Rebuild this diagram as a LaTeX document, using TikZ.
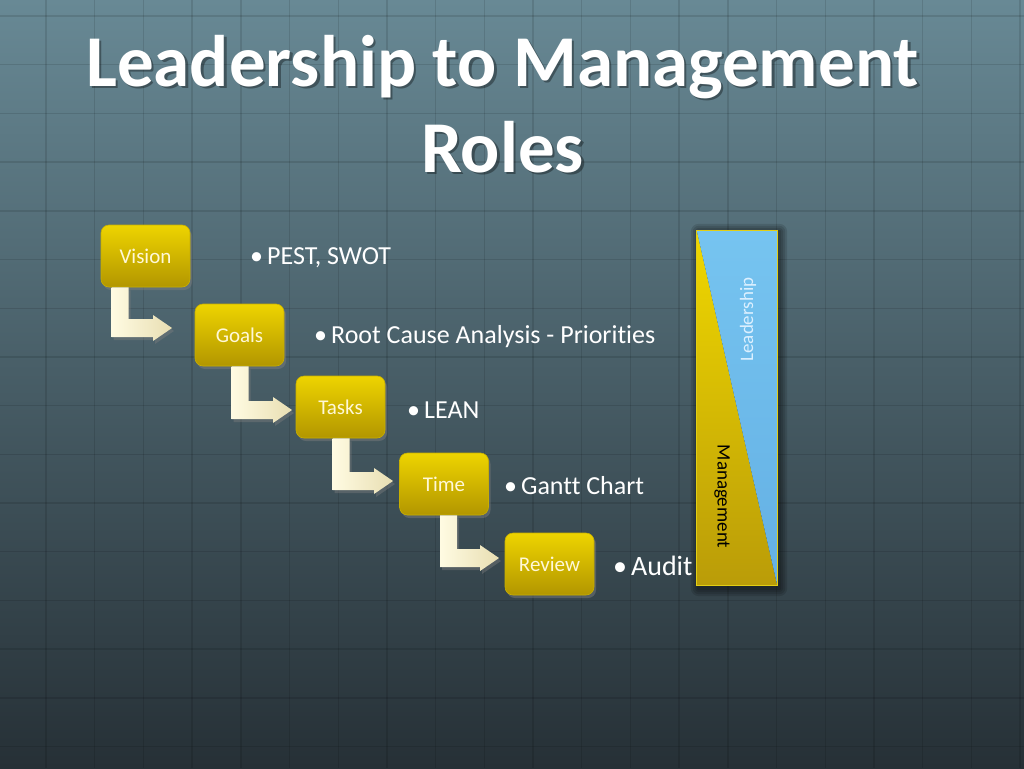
\documentclass[tikz,border=0pt]{standalone}
\usepackage{fontspec}
\setmainfont[Ligatures={NoCommon}]{Carlito}
\usetikzlibrary{calc,shadows}
\definecolor{bgtop}{RGB}{104,137,149}
\definecolor{bgmid}{RGB}{68,90,100}
\definecolor{bgbot}{RGB}{38,48,54}
\definecolor{boxtop}{RGB}{238,212,0}
\definecolor{boxbot}{RGB}{178,150,0}
\definecolor{boxedge}{RGB}{200,175,0}
\definecolor{boxtext}{RGB}{255,248,215}
\definecolor{creamL}{RGB}{255,251,226}
\definecolor{creamR}{RGB}{232,222,178}
\definecolor{skytop}{RGB}{118,196,240}
\definecolor{skybot}{RGB}{100,176,228}
\definecolor{ytop}{RGB}{240,216,0}
\definecolor{ybot}{RGB}{186,156,8}
\definecolor{baredge}{RGB}{226,206,20}
\definecolor{leadtext}{RGB}{220,240,255}
\tikzset{
  gridline/.style={black,opacity=0.11,line width=1.4pt},
  titletext/.style={text=white,font=\fontsize{73}{80}\selectfont\bfseries,anchor=base,inner sep=0pt},
  titleshadow/.style={text=black,opacity=0.35,font=\fontsize{73}{80}\selectfont\bfseries,anchor=base,inner sep=0pt},
  stepbox/.style={rounded corners=8pt,minimum width=89pt,minimum height=62pt,inner sep=0pt,
    top color=boxtop,bottom color=boxbot,draw=boxedge,line width=0.6pt,text=boxtext,
    font=\fontsize{21}{24}\selectfont,
    drop shadow={opacity=0.45,shadow xshift=2pt,shadow yshift=-3pt}},
  bullettext/.style={text=white,anchor=base west,inner sep=0pt,font=\fontsize{26}{30}\selectfont},
  bentarrow/.style={left color=creamL,right color=creamR,draw=none,
    drop shadow={opacity=0.4,shadow xshift=2pt,shadow yshift=-3pt}},
  barlabel/.style={inner sep=0pt,font=\fontsize{19}{22}\selectfont},
  barshadow/.style={black,opacity=0.12}
}
\newcommand{\bentarrowfrom}[3]{%
  \path[bentarrow] let \p1=($(#1.south west)+(#2,0)$), \p2=(#3) in
    (\x1,\y1) -- (\x1+17pt,\y1) -- (\x1+17pt,\y2+9pt) -- (\x2-19pt,\y2+9pt)
    -- (\x2-19pt,\y2+13pt) -- (\x2,\y2) -- (\x2-19pt,\y2-13pt) -- (\x2-19pt,\y2-9pt)
    -- (\x1,\y2-9pt) -- cycle;}
\begin{document}
\begin{tikzpicture}[x=1pt,y=-1pt]
\useasboundingbox (0,0) rectangle (1024,768);
\shade[top color=bgtop,middle color=bgmid,bottom color=bgbot] (0,0) rectangle (1024,768);
\foreach \i in {0,...,20} \draw[gridline] ({46+48.7*\i},0) -- ({46+48.7*\i},768);
\foreach \j in {0,...,15} \draw[gridline] (0,{16+48.7*\j}) -- (1024,{16+48.7*\j});

% title
\node[titleshadow] at (505,88.5) {Leadership to Management};
\node[titletext] (title1) at (502.5,86) {Leadership to Management};
\node[titleshadow] at (505,174.5) {Roles};
\node[titletext] (title2) at (502.5,172) {Roles};

% arrow tips
\coordinate (tip1) at (172,328);
\coordinate (tip2) at (292,410);
\coordinate (tip3) at (393,481);
\coordinate (tip4) at (499,558);

% step boxes
\node[stepbox] (vision) at (145.5,256) {Vision};
\node[stepbox] (goals) at (239.5,335) {Goals};
\node[stepbox] (tasks) at (340.5,407) {Tasks};
\node[stepbox] (time) at (444,484) {Time};
\node[stepbox] (review) at (549.5,564) {Review};

\bentarrowfrom{vision}{11}{tip1}
\bentarrowfrom{goals}{37}{tip2}
\bentarrowfrom{tasks}{37}{tip3}
\bentarrowfrom{time}{41}{tip4}

% bullet texts
\node[bullettext] (t1) at (250,264) {•\hspace{4pt}PEST, SWOT};
\node[bullettext] (t2) at (314,343) {•\hspace{4pt}Root Cause Analysis - Priorities};
\node[bullettext] (t3) at (407,418) {•\hspace{4pt}LEAN};
\node[bullettext] (t4) at (504,494) {•\hspace{4pt}Gantt Chart};
\node[bullettext,font=\fontsize{28}{32}\selectfont] (t5) at (613,575) {•\hspace{4pt}Audit};

% leadership / management bar
\node[minimum width=80pt,minimum height=354pt,inner sep=0pt] (bar) at (737,408) {};
\foreach \d in {2,4,6,8} \fill[barshadow,rounded corners=\d pt] ($(bar.north west)+(-\d pt+2pt,\d pt-1pt)$) rectangle ($(bar.south east)+(\d pt+2pt,-\d pt-3pt)$);
\shade[top color=ytop,bottom color=ybot] (bar.north west) -- (bar.south west) -- (bar.south east) -- cycle;
\shade[top color=skytop,bottom color=skybot] (bar.north west) -- (bar.north east) -- (bar.south east) -- cycle;
\draw[baredge,line width=1pt] (bar.north west) rectangle (bar.south east);
\node[barlabel,rotate=90,text=leadtext] (lead) at (748,319.5) {Leadership};
\node[barlabel,rotate=-90,text=black] (mgmt) at (722,496.5) {Management};
\end{tikzpicture}
\end{document}
